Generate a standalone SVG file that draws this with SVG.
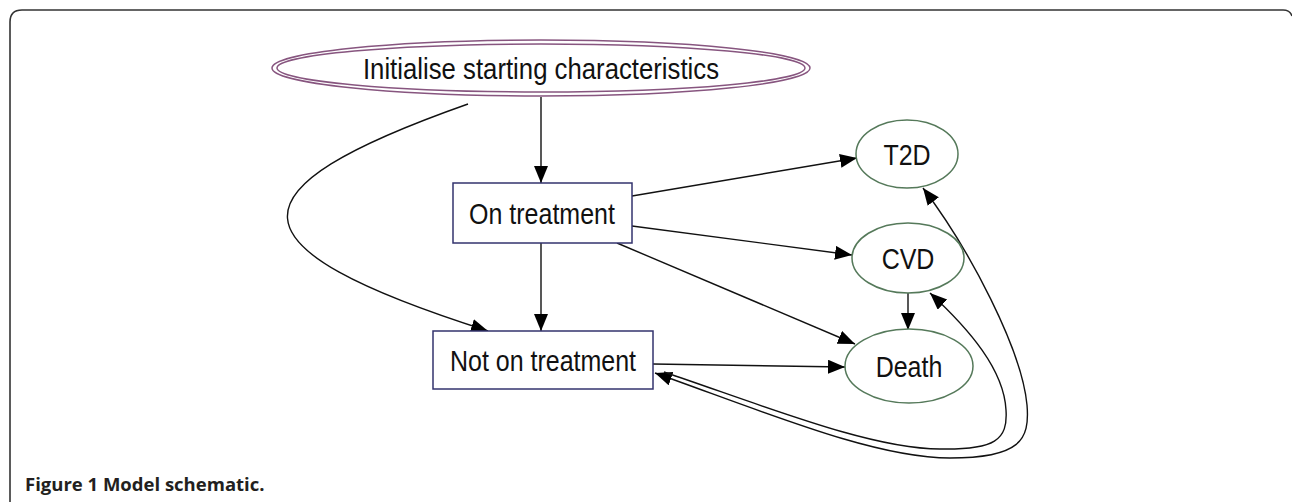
<svg xmlns="http://www.w3.org/2000/svg" width="1292" height="502" viewBox="0 0 1292 502">
<style>
.lbl{font-family:"Liberation Sans",Arial,sans-serif;font-size:25px;fill:#111;text-anchor:middle}
.edge{fill:none;stroke:#111;stroke-width:1.4}
.box{fill:#fff;stroke:#33336e;stroke-width:1.5}
.gr{fill:#fff;stroke:#55795a;stroke-width:1.5}
.pu{fill:none;stroke:#87557f;stroke-width:1.5}
.cap{font-family:"Open Sans","Liberation Sans",sans-serif;font-weight:bold;font-size:18.5px;fill:#231f20}
</style>
<defs>
<marker id="ah" markerUnits="userSpaceOnUse" markerWidth="20" markerHeight="16" refX="17" refY="7" orient="auto-start-reverse">
<path d="M0,0 L17,7 L0,14 z" fill="#000"/>
</marker>
</defs>
<rect width="1292" height="502" fill="#fff"/>
<path d="M10,502 V22 Q10,10 22,10 H1283 Q1290,10 1292,16" fill="none" stroke="#333" stroke-width="1.6"/>
<g id="connectors">
<path class="edge" d="M541,97 V183" marker-end="url(#ah)"/>
<path class="edge" d="M468,104 C224,190 224,247 488,331" marker-end="url(#ah)"/>
<path class="edge" d="M541,243 V331" marker-end="url(#ah)"/>
<path class="edge" d="M632,196 L857,158" marker-end="url(#ah)"/>
<path class="edge" d="M632,226 L852,255" marker-end="url(#ah)"/>
<path class="edge" d="M617,243 L855,344" marker-end="url(#ah)"/>
<path class="edge" d="M653,364 L845,367" marker-end="url(#ah)"/>
<path class="edge" d="M908,293 V330" marker-end="url(#ah)"/>
<path class="edge" d="M655,373 C770,414 875,458 950,458 C1020,458 1030,440 1027,405 C1022,350 970,250 923,188" marker-start="url(#ah)" marker-end="url(#ah)"/>
<path class="edge" d="M664,372 C770,408 872,449 940,449 C995,450 1008,440 1006,410 C1004,370 970,330 930,293" marker-end="url(#ah)"/>
</g>
<g id="init">
<ellipse class="pu" cx="541" cy="68" rx="269" ry="28"/>
<ellipse class="pu" cx="541" cy="68" rx="264" ry="24"/>
<text class="lbl" transform="translate(541,79) scale(1.03,1.18)">Initialise starting characteristics</text>
</g>
<g id="on">
<rect class="box" x="453" y="183" width="179" height="60"/>
<text class="lbl" transform="translate(542,224) scale(1,1.18)">On treatment</text>
</g>
<g id="not">
<rect class="box" x="433" y="331" width="220" height="58"/>
<text class="lbl" transform="translate(543,371) scale(1,1.18)">Not on treatment</text>
</g>
<g id="t2d">
<ellipse class="gr" cx="907" cy="154" rx="51" ry="34"/>
<text class="lbl" transform="translate(907,165) scale(1,1.18)">T2D</text>
</g>
<g id="cvd">
<ellipse class="gr" cx="908" cy="258" rx="56" ry="35"/>
<text class="lbl" transform="translate(908,269) scale(1,1.18)">CVD</text>
</g>
<g id="death">
<ellipse class="gr" cx="909" cy="366" rx="64" ry="37"/>
<text class="lbl" transform="translate(909,377) scale(1,1.18)">Death</text>
</g>
<text class="cap" x="25" y="491">Figure 1 Model schematic.</text>
</svg>
